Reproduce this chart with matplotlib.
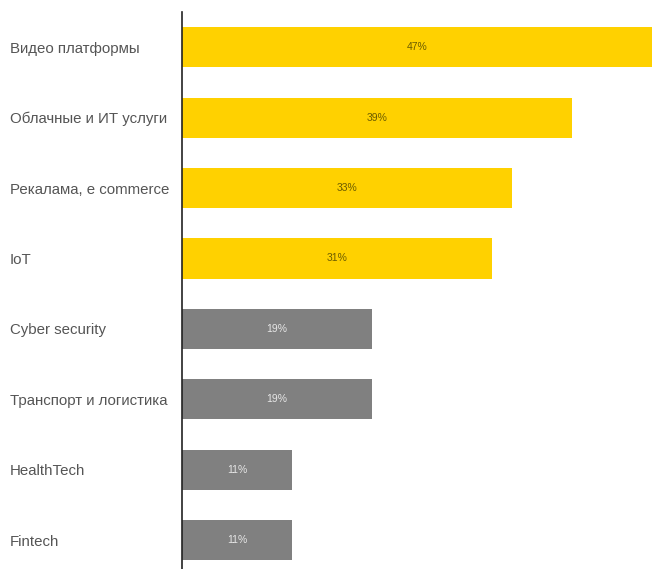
import matplotlib.pyplot as plt

categories = ["Видео платформы", "Облачные и ИТ услуги", "Рекалама, e commerce", "IoT",
              "Cyber security", "Транспорт и логистика", "HealthTech", "Fintech"]
values = [47, 39, 33, 31, 19, 19, 11, 11]
highlight = [True, True, True, True, False, False, False, False]

plt.rcParams['font.family'] = ['Liberation Sans', 'DejaVu Sans']

yellow = "#FFD100"
gray = "#808080"


def main():
    fig = plt.figure(figsize=(6.52, 5.69), dpi=100)
    ax = fig.add_axes([182 / 652, 0, 1 - 182 / 652, 1 - 12 / 569])

    pos = list(range(len(categories)))
    colors = [yellow if h else gray for h in highlight]
    ax.barh(pos, values, height=0.57, color=colors)

    for p, v, h in zip(pos, values, highlight):
        ax.text(v / 2, p, f"{v}%", ha="center", va="center", fontsize=7.5,
                color="#6b5c00" if h else "#e6e6e6")

    ax.set_xlim(0, 47)
    ax.set_ylim(7.41, -0.5)
    ax.set_xticks([])
    ax.set_yticks(pos)
    ax.set_yticklabels(categories, fontsize=10.8, color="#555555", ha="left")
    ax.tick_params(axis="y", length=0, pad=172 * 72 / 100)

    for s in ["top", "right", "bottom"]:
        ax.spines[s].set_visible(False)
    ax.spines["left"].set_color("#222222")
    ax.spines["left"].set_linewidth(1.2)

    fig.savefig("out.png", dpi=100)


if __name__ == "__main__":
    main()
